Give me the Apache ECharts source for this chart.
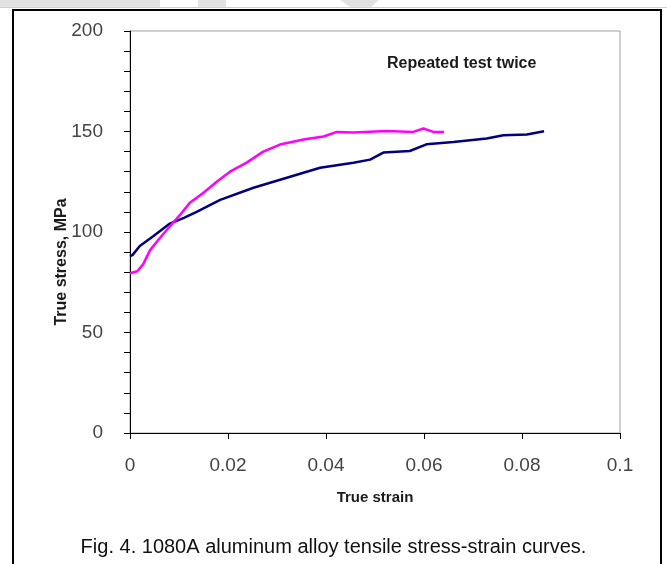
<!DOCTYPE html>
<html>
<head>
<meta charset="utf-8">
<script src="https://cdn.jsdelivr.net/npm/echarts@6/dist/echarts.min.js"></script>
<style>
  html, body { margin: 0; padding: 0; background: #fff; }
  #chart { width: 667px; height: 564px; }
</style>
</head>
<body>
<div id="chart"></div>
<script>
// test 1 (navy) — true strain / true stress, MPa
var strainA = [0, 0.0005, 0.002, 0.0048, 0.008, 0.011, 0.0136, 0.0184, 0.0252, 0.032, 0.0388, 0.0456, 0.049, 0.0517, 0.0571, 0.0605, 0.066, 0.0728, 0.0762, 0.081, 0.0845]
var stressA = [88, 88.5, 93, 98, 104, 107, 110, 116, 122, 127, 132, 134.5, 136, 139.5, 140.3, 143.6, 144.8, 146.5, 148.1, 148.5, 150.1]
// test 2 (magenta)
var strainB = [0, 0.0015, 0.0027, 0.0041, 0.0061, 0.0082, 0.0102, 0.0122, 0.015, 0.0177, 0.0204, 0.0238, 0.0272, 0.0306, 0.0354, 0.0395, 0.0422, 0.0456, 0.0524, 0.0578, 0.0599, 0.0619, 0.0641]
var stressB = [79.5, 80.5, 84, 91, 97, 103, 108.5, 114.5, 119.5, 125, 130, 134.5, 140, 143.5, 146, 147.5, 149.8, 149.5, 150.3, 149.8, 151.5, 149.8, 149.8]

var xTicks = ['0', '0.02', '0.04', '0.06', '0.08', '0.1']

function pairs(xs, ys) {
  return xs.map(function (x, i) { return [x, ys[i]] })
}

var font = '"Liberation Sans", Arial, sans-serif'
var chart = echarts.init(document.getElementById('chart'))

chart.setOption({
  animation: false,
  backgroundColor: '#fff',
  grid: {
    left: 130,
    right: 47,
    top: 31,
    bottom: 131,
    show: true,
    borderColor: '#a0a0a0',
    borderWidth: 1
  },
  title: {
    text: 'Repeated test twice',
    left: 382,
    top: 51,
    textStyle: { fontFamily: font, fontSize: 16, fontWeight: 'bold', color: '#1a1a1a' }
  },
  xAxis: {
    type: 'value',
    min: 0,
    max: 0.1,
    interval: 0.02,
    name: 'True strain',
    nameLocation: 'middle',
    nameGap: 57,
    nameTextStyle: { fontFamily: font, fontSize: 15, fontWeight: 'bold', color: '#1a1a1a', verticalAlign: 'top' },
    axisLine: { lineStyle: { color: '#000', width: 1 } },
    axisTick: { inside: false, length: 6, lineStyle: { color: '#000' } },
    splitLine: { show: false },
    axisLabel: {
      margin: 23,
      fontFamily: font,
      fontSize: 19,
      color: '#444',
      formatter: function (v) { return xTicks[Math.round(v / 0.02)] }
    }
  },
  yAxis: {
    type: 'value',
    min: 0,
    max: 200,
    interval: 50,
    axisLine: { show: true, lineStyle: { color: '#000', width: 1 } },
    axisTick: { show: true, inside: false, length: 6, lineStyle: { color: '#000' } },
    minorTick: { show: true, splitNumber: 5, length: 6, lineStyle: { color: '#000' } },
    splitLine: { show: false },
    axisLabel: { margin: 27, fontFamily: font, fontSize: 19, color: '#444' }
  },
  graphic: [
    { type: 'rect', left: 0, top: 0, shape: { width: 160, height: 7 }, style: { fill: '#e2e2e2' }, silent: true },
    { type: 'rect', left: 198, top: 0, shape: { width: 28, height: 7 }, style: { fill: '#e2e2e2' }, silent: true },
    { type: 'polygon', shape: { points: [[340, 0], [379, 0], [371, 7], [350, 7]] }, style: { fill: '#e2e2e2' }, silent: true },
    { type: 'rect', left: 0, top: 7, shape: { width: 667, height: 1 }, style: { fill: '#d0d0d0' }, silent: true },
    {
      type: 'rect',
      shape: { x: 13, y: 10, width: 648, height: 600 },
      style: { fill: 'none', stroke: '#000', lineWidth: 2 },
      silent: true
    },
    {
      type: 'text',
      x: 62,
      y: 262,
      rotation: Math.PI / 2,
      style: {
        text: 'True stress, MPa',
        font: 'bold 16px ' + font,
        fill: '#1a1a1a',
        align: 'center',
        verticalAlign: 'middle'
      }
    },
    {
      type: 'text',
      left: 'center',
      top: 537,
      style: {
        text: 'Fig. 4. 1080A aluminum alloy tensile stress-strain curves.',
        font: '20px ' + font,
        fill: '#111'
      }
    }
  ],
  series: [
    {
      name: 'Test 1',
      type: 'line',
      data: pairs(strainA, stressA),
      showSymbol: false,
      lineStyle: { color: '#000080', width: 2.5 },
      itemStyle: { color: '#000080' }
    },
    {
      name: 'Test 2',
      type: 'line',
      data: pairs(strainB, stressB),
      showSymbol: false,
      lineStyle: { color: '#ff00ff', width: 2.5 },
      itemStyle: { color: '#ff00ff' }
    }
  ]
})
</script>
</body>
</html>
